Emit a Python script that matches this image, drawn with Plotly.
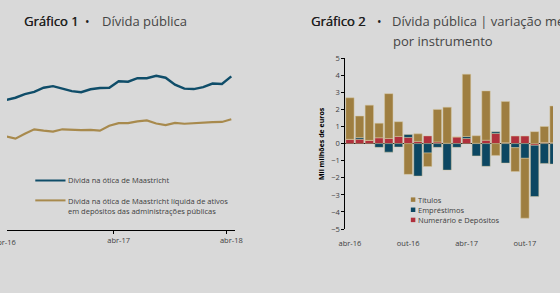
import plotly.graph_objects as go

W, H = 560, 293
def px(x): return x / W
def py(y): return 1 - y / H

# ---------------- data: Gráfico 1 (mil milhões de euros, monthly) ----------------
months_l = ["abr-16", "mai-16", "jun-16", "jul-16", "ago-16", "set-16", "out-16", "nov-16",
            "dez-16", "jan-17", "fev-17", "mar-17", "abr-17", "mai-17", "jun-17", "jul-17",
            "ago-17", "set-17", "out-17", "nov-17", "dez-17", "jan-18", "fev-18", "mar-18",
            "abr-18"]
maastricht = [238.6, 239.6, 241.2, 242.2, 244.1, 244.8, 243.7, 242.6, 242.1, 243.4, 244.0,
              244.1, 247.0, 246.8, 248.4, 248.4, 249.5, 248.6, 245.5, 243.7, 243.5, 244.4,
              246.0, 245.8, 249.2]
liquida = [222.2, 221.2, 223.4, 225.4, 224.8, 224.4, 225.4, 225.1, 225.0, 225.1, 224.8,
           227.0, 228.2, 228.2, 229.0, 229.4, 228.0, 227.3, 228.3, 227.9, 228.2, 228.4,
           228.6, 228.7, 229.9]
ticks_l = ["abr-17", "abr-18"]
first_tick_l = "abr-16"   # partly cut by the left edge in the reference

# ---------------- data: Gráfico 2 (variação mensal, mil milhões de euros) ----------------
months_r = ["abr-16", "mai-16", "jun-16", "jul-16", "ago-16", "set-16", "out-16", "nov-16",
            "dez-16", "jan-17", "fev-17", "mar-17", "abr-17", "mai-17", "jun-17", "jul-17",
            "ago-17", "set-17", "out-17", "nov-17", "dez-17", "jan-18"]
numerario = [0.25, 0.25, 0.19, 0.34, 0.30, 0.42, 0.36, 0.13, 0.45, 0.10, 0.02, 0.39, 0.30,
             0.02, 0.20, 0.59, 0.05, 0.44, 0.44, -0.10, 0.07, 0.05]
emprestimos = [0.00, 0.10, 0.00, -0.22, -0.50, -0.20, 0.17, -1.90, -0.55, -0.22, -1.55, -0.22,
               0.12, -0.72, -1.33, 0.10, -1.14, -0.24, -0.86, -3.00, -1.16, -1.20]
titulos = [2.43, 1.26, 2.06, 0.85, 2.62, 0.86, -1.80, 0.44, -0.79, 1.90, 2.11, 0.00, 3.64,
           0.44, 2.88, -0.69, 2.41, -1.39, -3.50, 0.70, 0.93, 2.15]
ticks_r = ["abr-16", "out-16", "abr-17", "out-17"]

BG = "#d9d9d9"
C_BLUE = "#0f4d69"
C_GOLD = "#a88a4d"
C_TIT = "#9e7e40"
C_EMP = "#0c4762"
C_NUM = "#b0303c"
TXT = "#404040"
FONT = "Open Sans"

fig = go.Figure()

fig.add_trace(go.Scatter(x=months_l, y=maastricht, mode="lines", xaxis="x", yaxis="y",
                         line=dict(color=C_BLUE, width=2.4), showlegend=False))
fig.add_trace(go.Scatter(x=months_l, y=liquida, mode="lines", xaxis="x", yaxis="y",
                         line=dict(color=C_GOLD, width=2.2), showlegend=False))

edge = dict(color="rgba(215,200,160,0.8)", width=0.6)
for name, vals, col in [("Numerário e Depósitos", numerario, C_NUM),
                        ("Empréstimos", emprestimos, C_EMP),
                        ("Títulos", titulos, C_TIT)]:
    fig.add_trace(go.Bar(x=months_r, y=vals, name=name, xaxis="x2", yaxis="y2",
                         marker=dict(color=col, line=edge), showlegend=False))

tickfont = dict(family=FONT, size=7.5, color=TXT)

fig.update_layout(
    width=W, height=H, margin=dict(l=0, r=0, t=0, b=0),
    paper_bgcolor=BG, plot_bgcolor=BG,
    barmode="relative", bargap=0.14,
    font=dict(family=FONT, color=TXT),
    xaxis=dict(domain=[0, px(234)], type="category", range=[0.1, 24.41],
               tickmode="array", tickvals=ticks_l, ticktext=ticks_l, tickson="boundaries",
               tickangle=0,
               ticks="outside", ticklen=3, tickcolor="#000", tickwidth=1,
               showline=True, linecolor="#000", linewidth=1, showgrid=False,
               zeroline=False, tickfont=tickfont, ticklabelstandoff=3, anchor="y"),
    yaxis=dict(domain=[py(232.7), py(50)], range=[180.2, 259.6], visible=False,
               showgrid=False, anchor="x"),
    xaxis2=dict(domain=[px(347), 1], type="category", range=[-0.47, 20.89],
                tickmode="array", tickvals=ticks_r, ticktext=ticks_r, tickangle=0,
                ticks="", showline=False, showgrid=False, zeroline=False,
                tickfont=tickfont, ticklabelstandoff=8, anchor="y2"),
    yaxis2=dict(domain=[py(232), py(55)], range=[-5, 5], dtick=1,
                ticks="outside", ticklen=3, tickcolor="#000", tickwidth=1,
                showline=True, linecolor="#000", linewidth=1, showgrid=False,
                zeroline=True, zerolinecolor="#000", zerolinewidth=1,
                tickfont=tickfont, layer="above traces", anchor="x2"),
    xaxis3=dict(overlaying="x2", anchor="free", position=py(143.5), range=[-0.47, 20.89],
                tickmode="array", tickvals=[5.5, 11.5, 17.5], showticklabels=False,
                ticks="outside", ticklen=2, tickcolor="#000", showline=False,
                showgrid=False, zeroline=False, layer="above traces"),
)

ann = []
def text(x, y, s, size=7.5, color=TXT, anchor="left", weight=None, angle=0, shadow=None):
    f = dict(family=FONT, size=size, color=color)
    if weight:
        f["weight"] = weight
    if shadow:
        f["shadow"] = shadow
    ann.append(dict(x=px(x), y=py(y), xref="paper", yref="paper", text=s, showarrow=False,
                    xanchor=anchor, yanchor="middle", font=f, textangle=angle,
                    borderpad=0))

semi = "0.35px 0 0 #1e1e1e"
# titles
text(16, 17, "Gráfico 1", size=13, color="#1e1e1e", shadow=semi)
text(82.5, 17, "•", size=12, color="#1e1e1e", anchor="center")
text(96, 17, "Dívida pública", size=13, color="#454545")
text(311, 17, "Gráfico 2", size=13, color="#1e1e1e", shadow=semi)
text(382.5, 17, "•", size=12, color="#1e1e1e", anchor="center")
text(393.5, 17, "Dívida pública | variação mensal", size=13, color="#454545")
text(395, 37.5, "por instrumento", size=13, color="#454545")

# first tick label of chart 1, cut by the left edge as in the reference
text(-3, 245, first_tick_l, anchor="center")

# left legend
text(62, 181.5, "Dívida na ótica de Maastricht")
text(62, 202.5, "Dívida na ótica de Maastricht líquida de ativos")
text(62, 212.8, "em depósitos das administrações públicas")

# right legend
text(420, 201.5, "Títulos")
text(420, 212.0, "Empréstimos")
text(420, 222.5, "Numerário e Depósitos")

# y axis title of chart 2
text(322, 143, "Mil milhões de euros", size=7, color="#000", anchor="center",
     weight="bold", angle=-90)

fig.update_layout(annotations=ann)

shapes = [
    dict(type="line", xref="paper", yref="paper", x0=px(29), x1=px(60), y0=py(181.7),
         y1=py(181.7), line=dict(color=C_BLUE, width=2)),
    dict(type="line", xref="paper", yref="paper", x0=px(29), x1=px(60), y0=py(202.3),
         y1=py(202.3), line=dict(color=C_GOLD, width=2)),
]
for yc, col in [(201.5, C_TIT), (212.0, C_EMP), (222.5, C_NUM)]:
    shapes.append(dict(type="rect", xref="paper", yref="paper", x0=px(414.2), x1=px(418.8),
                       y0=py(yc + 2.3), y1=py(yc - 2.3), line=dict(width=0), fillcolor=col))
fig.update_layout(shapes=shapes)

fig.write_html("out.html")
